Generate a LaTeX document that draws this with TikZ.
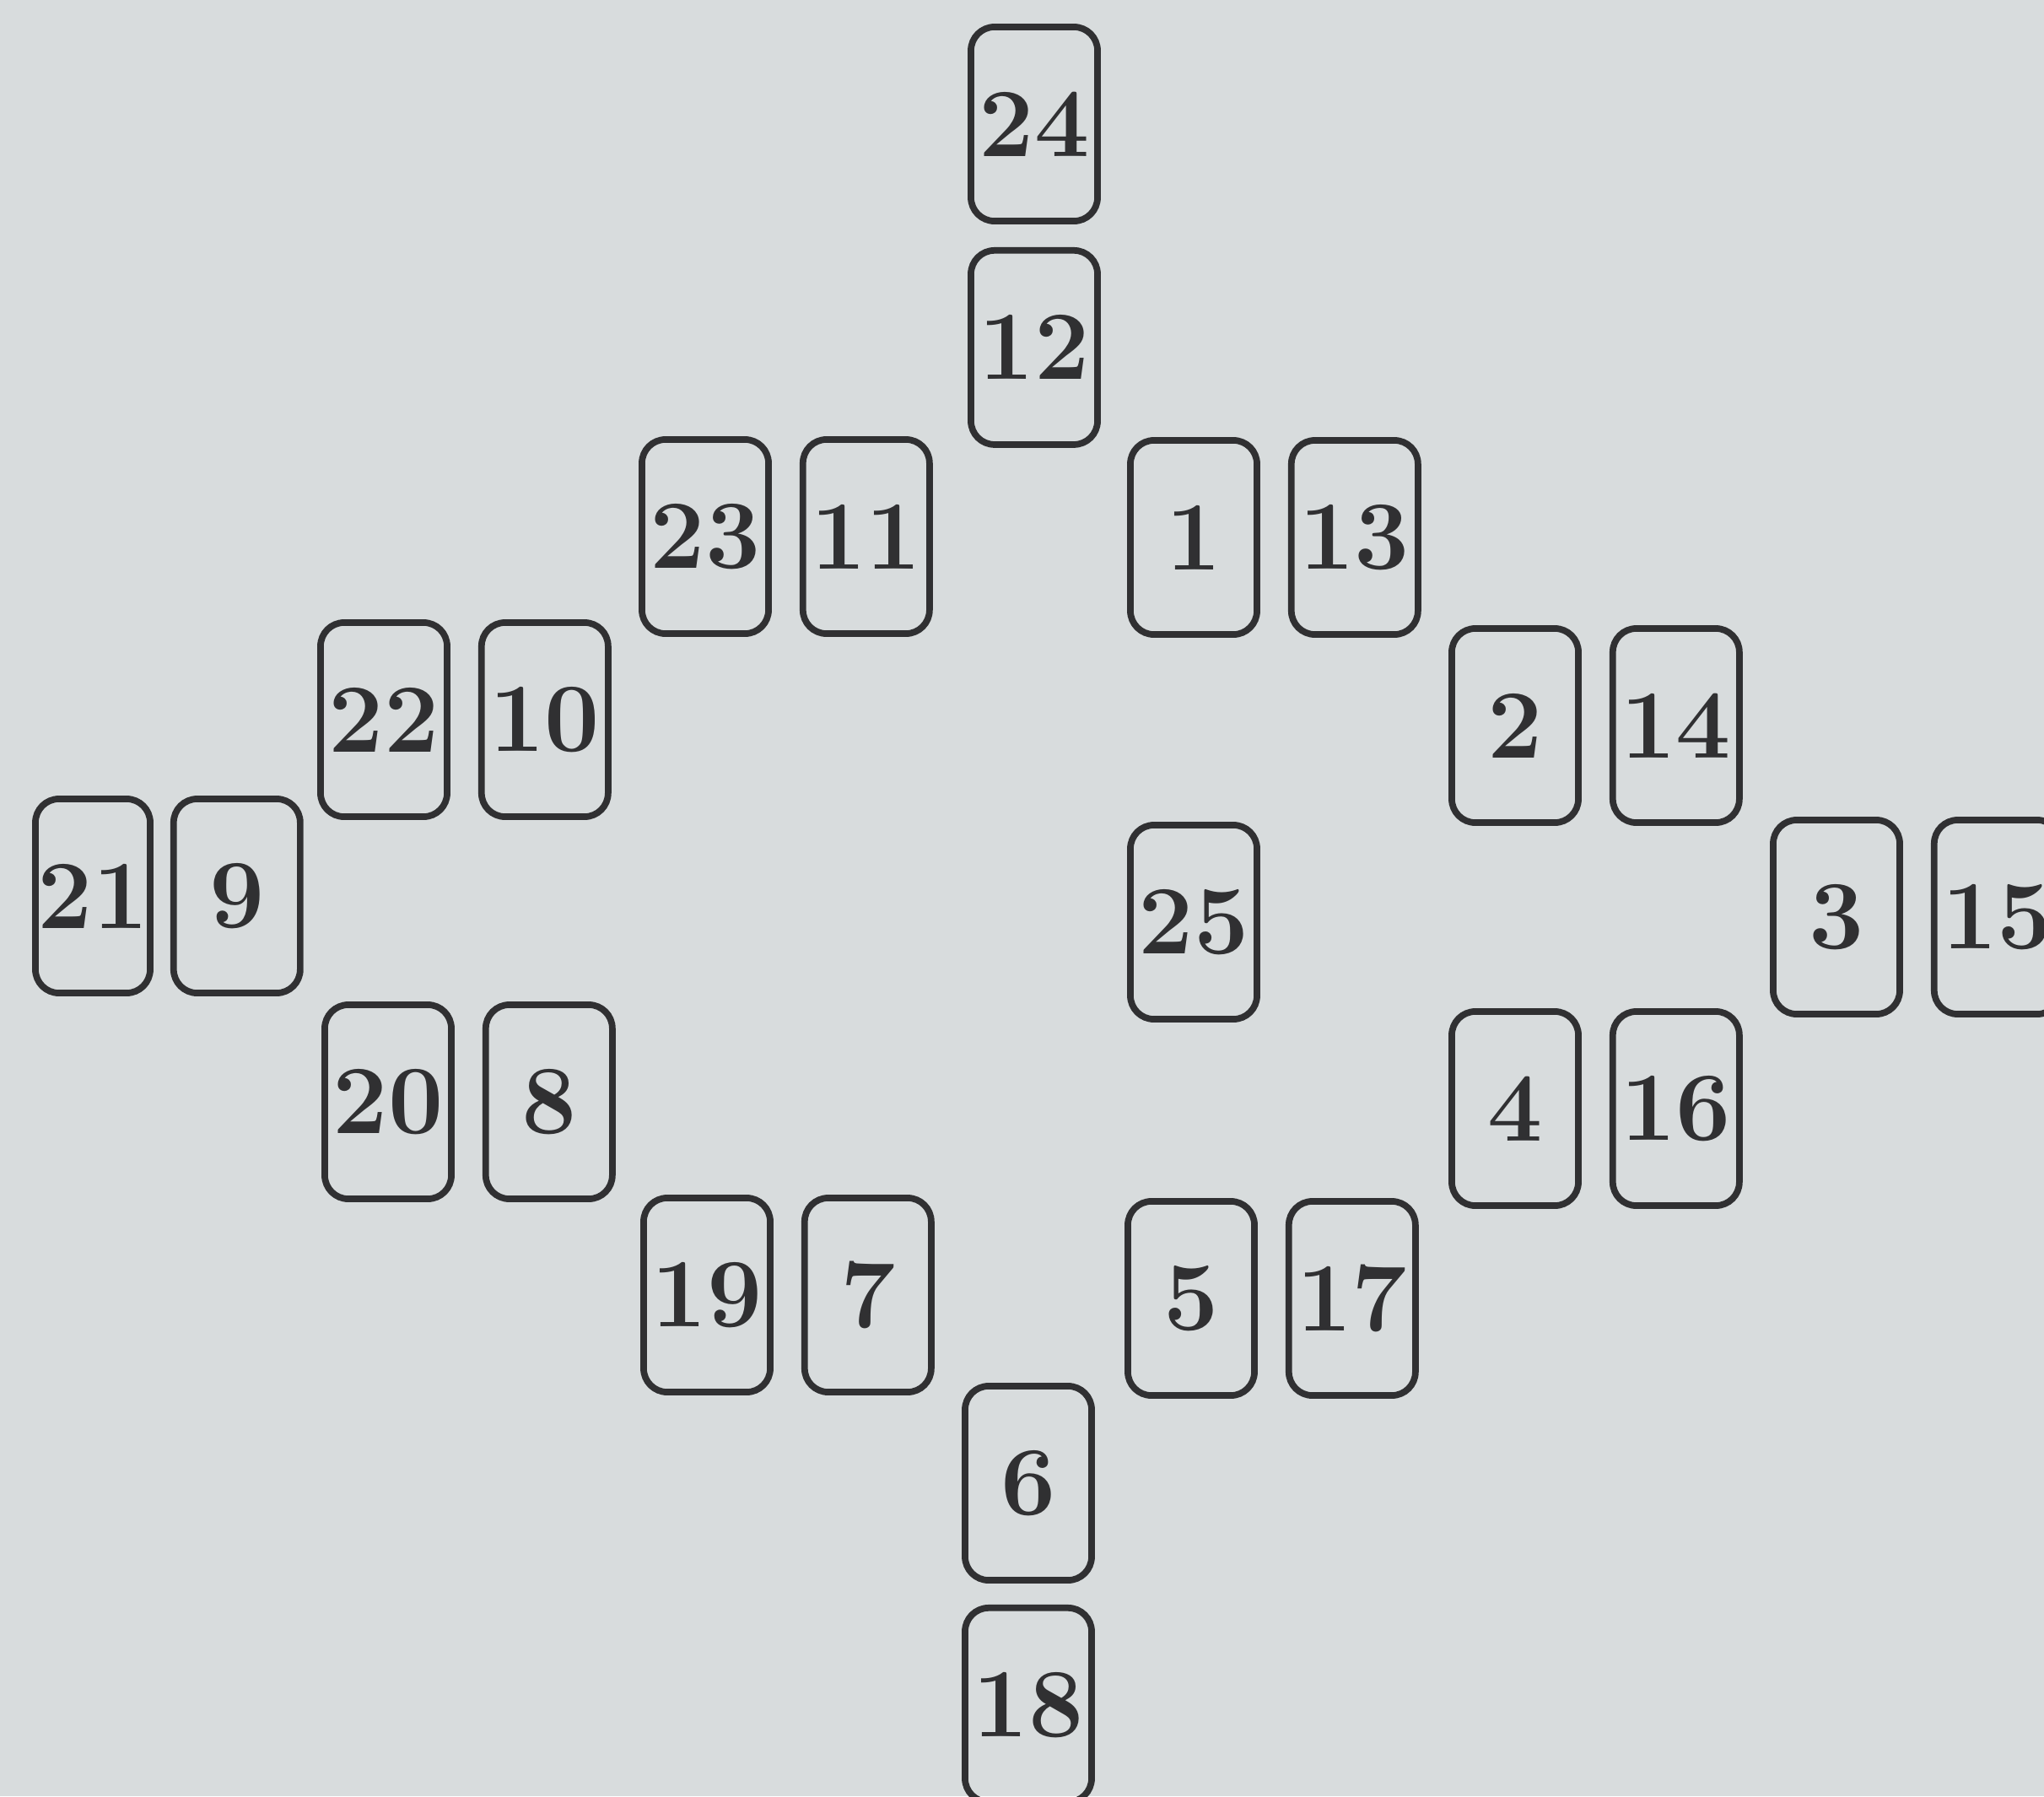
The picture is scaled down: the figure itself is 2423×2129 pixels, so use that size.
\documentclass[tikz,border=0pt]{standalone}
\usepackage{fontspec}
\usepackage{tikz}
\usetikzlibrary{positioning}
\definecolor{paper}{RGB}{216,220,221}
\definecolor{ink}{RGB}{48,48,50}

\begin{document}
\begin{tikzpicture}[
    x=0.01cm, y=-0.01cm,
    card/.style={draw=ink, line width=2.2pt, rounded corners=0.28cm, minimum width=1.5cm, minimum height=2.3cm, inner sep=0pt, text=ink, font=\fontsize{33}{40}\selectfont\bfseries},
    node distance=0.33cm
]
\fill[paper] (0,0) rectangle (2423,2129);
\useasboundingbox (0,0) rectangle (2423,2129);
\clip (0,0) rectangle (2423,2129);

\node[card] (c24) at (1226,147) {24};
\node[card, below=0.27cm of c24] (c12) {12};

\node[card] (c23) at (836,636) {23};
\node[card, right=of c23] (c11) {11};
\node[card] (c1) at (1415,637) {1};
\node[card, right=of c1] (c13) {13};

\node[card] (c22) at (455,853) {22};
\node[card, right=of c22] (c10) {10};
\node[card] (c2) at (1796,860) {2};
\node[card, right=of c2] (c14) {14};

\node[card, minimum width=1.36cm] (c21) at (110,1062) {21};
\node[card, right=0.2cm of c21] (c9) {9};
\node[card] (c25) at (1415,1093) {25};
\node[card] (c3) at (2177,1087) {3};
\node[card, right=of c3] (c15) {15};

\node[card] (c20) at (460,1306) {20};
\node[card, right=of c20] (c8) {8};
\node[card] (c4) at (1796,1314) {4};
\node[card, right=of c4] (c16) {16};

\node[card] (c19) at (838,1535) {19};
\node[card, right=of c19] (c7) {7};
\node[card] (c5) at (1412,1539) {5};
\node[card, right=of c5] (c17) {17};

\node[card] (c6) at (1219,1758) {6};
\node[card, below=0.25cm of c6] (c18) {18};

\end{tikzpicture}
\end{document}
